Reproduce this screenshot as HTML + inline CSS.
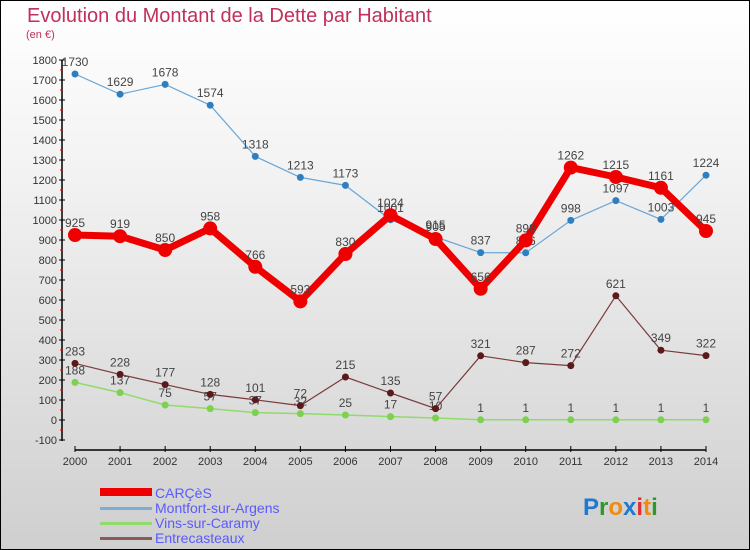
<!DOCTYPE html>
<html><head><meta charset="utf-8"><style>
body{margin:0;width:750px;height:550px;overflow:hidden;font-family:"Liberation Sans",sans-serif}
#wrap{position:absolute;left:0;top:0;width:748px;height:548px;border:1px solid #000;background:linear-gradient(#ffffff,#f3f3f3 30%,#cfcfcf)}
</style></head><body>
<div id="wrap">
<svg id="chart" width="750" height="550" style="position:absolute;left:-1px;top:-1px">
<text x="27" y="22" font-size="20" fill="#c0305a">Evolution du Montant de la Dette par Habitant</text>
<text x="26" y="38" font-size="11" fill="#c0305a">(en €)</text>
<g id="axes"></g><g id="series"></g>
<g>
<rect x="100" y="488" width="52" height="8" fill="#e00"/>
<text x="155" y="498" font-size="14" fill="#5a5aff">CARÇèS</text>
<rect x="100" y="507" width="52" height="3" fill="#7aaed4"/>
<text x="155" y="513" font-size="14" fill="#5a5aff">Montfort-sur-Argens</text>
<rect x="100" y="522" width="52" height="3" fill="#8fdc6a"/>
<text x="155" y="528" font-size="14" fill="#5a5aff">Vins-sur-Caramy</text>
<rect x="100" y="537" width="52" height="3" fill="#8a5a5a"/>
<text x="155" y="543" font-size="14" fill="#5a5aff">Entrecasteaux</text>
</g>
<text x="583" y="515" font-size="24" font-weight="bold"><tspan fill="#1e7ad0">P</tspan><tspan fill="#2a9a2a">r</tspan><tspan fill="#f08a10">o</tspan><tspan fill="#1e7ad0">x</tspan><tspan fill="#e03030">i</tspan><tspan fill="#f08a10">t</tspan><tspan fill="#2a9a2a">i</tspan></text>
</svg></div>
<script>
const years=[2000,2001,2002,2003,2004,2005,2006,2007,2008,2009,2010,2011,2012,2013,2014];
const carces=[925,919,850,958,766,593,830,1024,905,656,898,1262,1215,1161,945];
const montfort=[1730,1629,1678,1574,1318,1213,1173,1001,915,837,836,998,1097,1003,1224];
const vins=[188,137,75,57,37,32,25,17,10,1,1,1,1,1,1];
const entre=[283,228,177,128,101,72,215,135,57,321,287,272,621,349,322];
const yTicks=[-100,0,100,200,300,400,500,600,700,800,900,1000,1100,1200,1300,1400,1500,1600,1700,1800];
const NS="http://www.w3.org/2000/svg";
const X=i=>75+i*(706-75)/(years.length-1);
const Y=v=>420-v*0.2;
function mk(t,a,p){const e=document.createElementNS(NS,t);for(const k in a)e.setAttribute(k,a[k]);p.appendChild(e);return e;}
const ax=document.getElementById('axes'),sg=document.getElementById('series');
let yl=mk('line',{x1:62,y1:Y(1800),x2:62,y2:Y(-100)+1,stroke:'#000','stroke-width':1.5},ax);


yTicks.forEach(v=>{
 mk('line',{x1:59,y1:Y(v),x2:65,y2:Y(v),stroke:'#000'},ax);
 if(v<1800)mk('line',{x1:60,y1:Y(v+50),x2:63,y2:Y(v+50),stroke:'#e00'},ax);
 const t=mk('text',{x:57,y:Y(v)+4,'text-anchor':'end','font-size':11,fill:'#333'},ax);t.textContent=v;
 
 
});
let xl=mk('line',{x1:75,y1:450,x2:706,y2:450,stroke:'#000','stroke-width':1.5},ax);


years.forEach((y,i)=>{
 mk('line',{x1:X(i),y1:446,x2:X(i),y2:452,stroke:'#000'},ax);
 const t=mk('text',{x:X(i),y:465,'text-anchor':'middle','font-size':11,fill:'#333'},ax);t.textContent=y;
 
 
});
function series(data,color,w,r,fill,name){
 const g=mk('g',{},sg);
 
 
 mk('polyline',{points:data.map((v,i)=>X(i)+','+Y(v)).join(' '),fill:'none',stroke:color,'stroke-width':w,'stroke-linejoin':'round'},g);
 data.forEach((v,i)=>{
  const c=mk('circle',{cx:X(i),cy:Y(v),r:r,fill:fill},g);
  
  
  const t=mk('text',{x:X(i),y:Y(v)-8,'text-anchor':'middle','font-size':12,fill:'#444'},g);t.textContent=v;
  
  
 });
}
series(vins,'#8fdc6a',1.5,3.5,'#7ed050','vins');
series(entre,'#7a3a3a',1.2,3.5,'#5a1a1a','entrecasteaux');
series(montfort,'#6aa6d6',1.2,3.5,'#2f7fc0','montfort');
series(carces,'#ee0000',7,7,'#ee0000','carces');
</script>
</body></html>
